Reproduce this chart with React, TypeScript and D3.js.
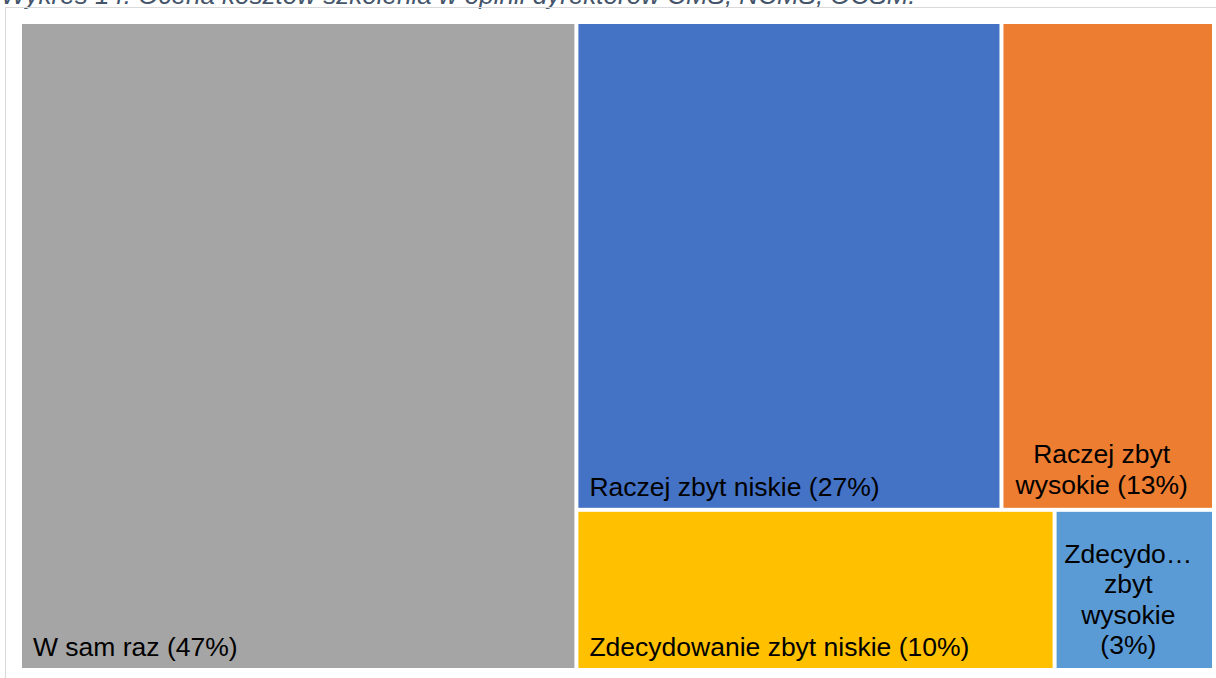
import React from "react";
import * as d3 from "d3";

// Ocena kosztów szkolenia (% odpowiedzi, etykiety zaokrąglone)
const categories = [
  "W sam raz",
  "Raczej zbyt niskie",
  "Raczej zbyt wysokie",
  "Zdecydowanie zbyt niskie",
  "Zdecydowanie zbyt wysokie",
];
const values = [46.6, 26.8, 13.4, 9.9, 3.3];
const colors = ["#a5a5a5", "#4472c4", "#ed7d31", "#ffc000", "#5b9bd5"];

const title = "Wykres 14. Ocena kosztów szkolenia w opinii dyrektorów CMS, NCMS, OCSM.";

const W = 1216;
const H = 678;
const area = { left: 22, top: 24, right: 1212, bottom: 668 };
const fontSize = 26.5;
const font = fontSize + "px 'Liberation Sans', Arial, sans-serif";
const lineH = 30.5;
const pad = 11;

let ctx: CanvasRenderingContext2D | null = null;
function measure(s: string) {
  if (!ctx) ctx = document.createElement("canvas").getContext("2d");
  if (!ctx) return s.length * fontSize * 0.5;
  ctx.font = font;
  return ctx.measureText(s).width;
}

// wrap words into the box; words that are too long get cut with an ellipsis
function wrap(text: string, maxW: number) {
  const words = text.split(" ");
  const lines: string[] = [];
  let cur = "";
  words.forEach((w) => {
    if (measure(w) > maxW) {
      let t = w;
      while (t.length > 1 && measure(t + "…") > maxW) t = t.slice(0, -1);
      w = t + "…";
    }
    const test = cur ? cur + " " + w : w;
    if (measure(test) <= maxW || !cur) cur = test;
    else {
      lines.push(cur);
      cur = w;
    }
  });
  if (cur) lines.push(cur);
  return lines;
}

export default function App() {
  const data = categories.map((c, i) => ({ name: c, value: values[i], color: colors[i] }));

  const root = d3
    .hierarchy<any>({ name: "root", children: data })
    .sum((d: any) => d.value || 0)
    .sort((a, b) => (b.value || 0) - (a.value || 0));

  d3.treemap<any>()
    .tile(d3.treemapSquarify)
    .size([area.right - area.left, area.bottom - area.top])
    .paddingInner(4)(root);

  const leaves = root.leaves() as d3.HierarchyRectangularNode<any>[];

  return (
    <svg width={W} height={H} style={{ position: "absolute", left: 0, top: 0 }}>
      <rect x={0} y={0} width={W} height={H} fill="#fff" />
      <text
        x={1}
        y={4}
        fontFamily="'Liberation Sans', Arial, sans-serif"
        fontStyle="italic"
        fontSize={26}
        fill="#44546a"
      >
        {title}
      </text>
      <rect x={5.5} y={7.5} width={W + 10} height={H + 10} fill="none" stroke="#d9d9d9" strokeWidth={1} />
      <g transform={`translate(${area.left},${area.top})`}>
        {leaves.map((d, i) => {
          const w = d.x1 - d.x0;
          const h = d.y1 - d.y0;
          const label = d.data.name + " (" + Math.round(d.data.value) + "%)";
          const one = measure(label) <= w - 2 * pad;
          const lines = one ? [label] : wrap(label, w - 2 * pad);
          const anchor = one ? "start" : "middle";
          const tx = one ? d.x0 + pad : d.x0 + w / 2 - 6;
          const baseY = d.y1 - (one ? 12 : 14);
          return (
            <g key={i}>
              <rect x={d.x0} y={d.y0} width={w} height={h} fill={d.data.color} />
              {lines.map((l, j) => (
                <text
                  key={j}
                  x={tx}
                  y={baseY - (lines.length - 1 - j) * lineH}
                  textAnchor={anchor}
                  fontFamily="'Liberation Sans', Arial, sans-serif"
                  fontSize={fontSize}
                  fill="#000"
                >
                  {l}
                </text>
              ))}
            </g>
          );
        })}
      </g>
    </svg>
  );
}
